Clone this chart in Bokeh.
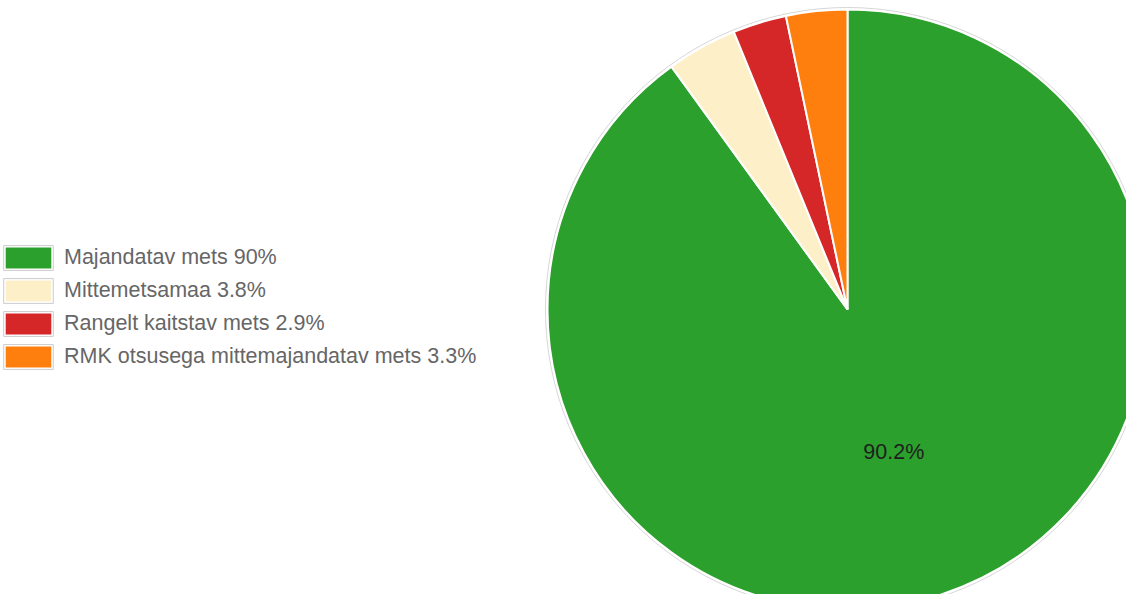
import numpy as np
from bokeh.plotting import figure
from bokeh.models import ColumnDataSource, Range1d, Legend, LegendItem
from bokeh.core.properties import value
from bokeh.embed import file_html
from bokeh.resources import INLINE

# ---- data ----
categories = ["Majandatav mets", "Mittemetsamaa", "Rangelt kaitstav mets", "RMK otsusega mittemajandatav mets"]
values = [90.2, 3.8, 2.9, 3.3]
legend_labels = ["Majandatav mets 90%", "Mittemetsamaa 3.8%", "Rangelt kaitstav mets 2.9%",
                 "RMK otsusega mittemajandatav mets 3.3%"]
colors = ["#2ca02c", "#fdf0c9", "#d62728", "#ff7f0e"]
slice_labels = ["90.2%", "", "", ""]

# ---- geometry ----
R = 300
vals = np.array(values, dtype=float)
frac = vals / vals.sum()
cum = np.cumsum(frac)
cum_prev = cum - frac
end = np.pi / 2 - 2 * np.pi * cum_prev
start = np.pi / 2 - 2 * np.pi * cum
mid = (start + end) / 2

src = ColumnDataSource(dict(cat=categories, start=start, end=end, color=colors,
                            lx=0.5 * R * np.cos(mid), ly=0.5 * R * np.sin(mid),
                            lab=slice_labels, nx=[np.nan] * 4, ny=[np.nan] * 4))

p = figure(width=1126, height=594, x_range=Range1d(-847, 279), y_range=Range1d(-285, 309),
           output_backend="svg", toolbar_location=None, min_border=0,
           outline_line_color=None, background_fill_color="white")
p.axis.visible = False
p.grid.visible = False

# faint shadow ring
p.circle(x=0, y=0, radius=R + 2, fill_color=None, line_color="#c4c4c4", line_width=1, line_alpha=0.7)

p.wedge(x=0, y=0, radius=R, start_angle="start", end_angle="end", direction="anticlock",
        fill_color="color", line_color="white", line_width=2, source=src)

p.text(x="lx", y="ly", text="lab", source=src, text_align="center", text_baseline="middle",
       text_font=value("Liberation Sans"), text_font_size="21.5px", text_color="#1e1e1e")

# legend swatch renderers (not drawn in the plot area: NaN positions)
sw = p.rect(x="nx", y="ny", width=1, height=1, source=src, fill_color="color",
            line_color="white", line_width=4)
bd = p.rect(x="nx", y="ny", width=1, height=1, source=src, fill_color=None,
            line_color="#cccccc", line_width=1)

items = [LegendItem(label=legend_labels[i], renderers=[sw, bd], index=i) for i in range(4)]
legend = Legend(items=items, location=(-3, 222), orientation="vertical",
                glyph_width=62, glyph_height=31, spacing=2, padding=0, margin=0,
                label_standoff=5, border_line_color=None, background_fill_alpha=0,
                label_text_font="Liberation Sans", label_text_font_size="21.5px",
                label_text_color="#666666", label_text_baseline="middle")
p.add_layout(legend, "center")

open("out.html", "w").write(file_html(p, INLINE))
